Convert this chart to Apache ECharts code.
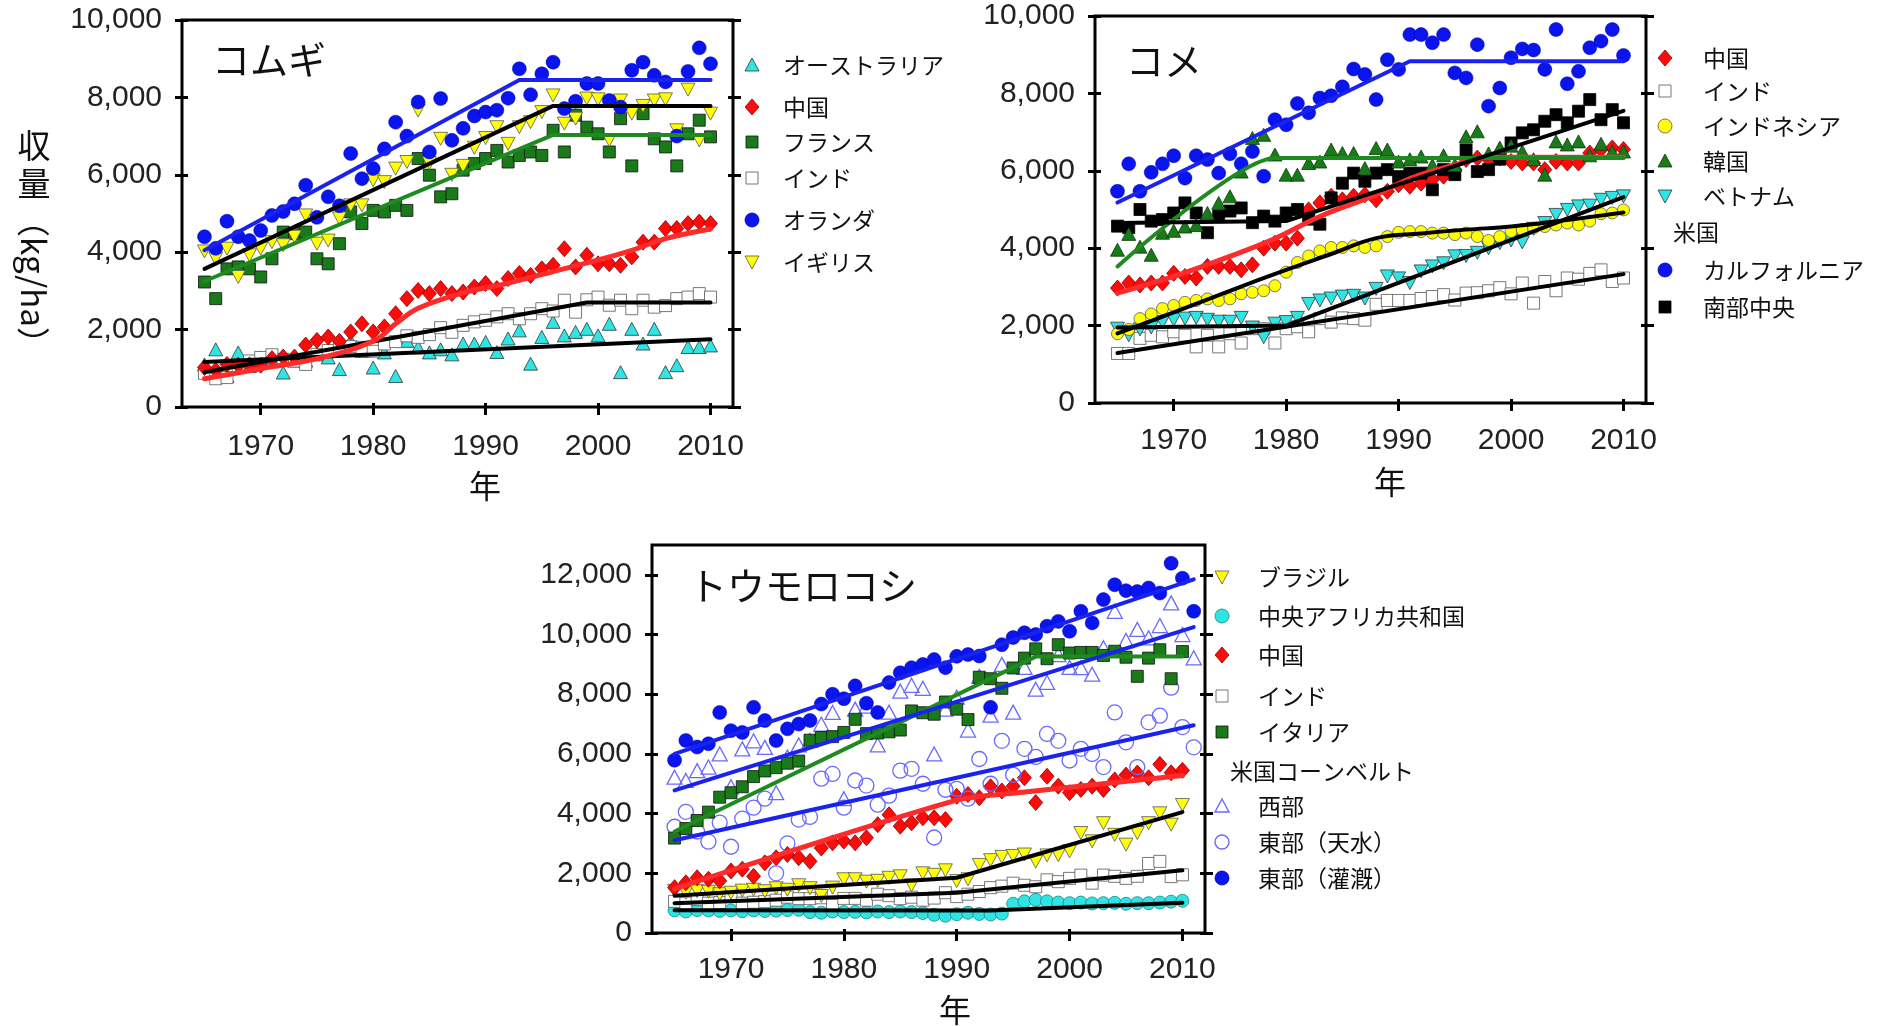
<!DOCTYPE html>
<html><head><meta charset="utf-8">
<script src="https://cdn.jsdelivr.net/npm/echarts@6/dist/echarts.min.js"></script>
<style>html,body{margin:0;padding:0;background:#fff}#c{width:1879px;height:1026px}</style>
</head><body><div id="c"></div>
<script>
// ---------- years ----------
const years46 = [1965,1966,1967,1968,1969,1970,1971,1972,1973,1974,1975,1976,1977,1978,1979,1980,1981,1982,1983,1984,1985,1986,1987,1988,1989,1990,1991,1992,1993,1994,1995,1996,1997,1998,1999,2000,2001,2002,2003,2004,2005,2006,2007,2008,2009,2010];
const years47 = [1965,1966,1967,1968,1969,1970,1971,1972,1973,1974,1975,1976,1977,1978,1979,1980,1981,1982,1983,1984,1985,1986,1987,1988,1989,1990,1991,1992,1993,1994,1995,1996,1997,1998,1999,2000,2001,2002,2003,2004,2005,2006,2007,2008,2009,2010,2011];
const xTicks = [1970,1980,1990,2000,2010];
const yTicks10 = [0,2000,4000,6000,8000,10000];
const yTicks12 = [0,2000,4000,6000,8000,10000,12000];

// ---------- wheat (kg/ha) ----------
const wheatNL = [4400,4100,4800,4400,4300,4560,4950,5050,5250,5730, 4900,5430,5200,6550,5900,6160,6670,7360,7000,7880, 6590,7970,6890,7200,7520,7620,7670,7980,8740,8070, 8610,8910,7710,7900,8360,8360,7920,7750,8700,8910, 8570,8400,7000,8670,9280,8870];
const wheatUK = [4020,3830,4090,3360,3920,4090,4260,4180,4400,4950, 4220,4300,4870,5210,5210,5860,5810,6160,6330,7660, 6300,6930,6000,6230,6700,6950,7230,6800,7230,7360, 7620,8050,7320,7450,7970,7950,6900,7920,7580,7780, 7920,7950,7150,8200,6890,7580];
const wheatFR = [3230,2800,3570,3620,3570,3360,3830,4520,4480,4520, 3830,3700,4220,5040,4740,5080,5040,5210,5080,6420, 5990,5430,5510,6120,6290,6420,6630,6330,6500,6590, 6500,7150,6590,7540,7230,7060,6590,7450,6230,7580, 6930,6720,6230,7060,7410,6980];
const wheatCN = [1020,950,1100,1080,1090,1080,1250,1290,1290,1600, 1720,1810,1700,1940,2150,1940,2070,2410,2800,3010, 2930,3060,2930,2970,3100,3190,3060,3320,3450,3400, 3570,3660,4090,3620,3920,3700,3700,3660,3880,4260, 4260,4610,4610,4740,4780,4740];
const wheatIN = [870,730,760,1020,1190,1280,1350,1230,1190,1100, 1360,1460,1540,1560,1540,1440,1630,1690,1840,1800, 1870,2050,1930,2110,2200,2240,2330,2410,2280,2410, 2540,2480,2760,2450,2770,2840,2630,2760,2540,2760, 2580,2620,2800,2840,2930,2840];
const wheatAU = [1100,1490,800,1410,1060,1280,1190,890,1200,1200, 1360,1280,980,1710,1450,1020,1410,800,1710,1540, 1410,1490,1360,1640,1640,1680,1420,1770,1980,1120, 1810,2200,1850,1940,2020,1850,2150,900,2020,1640, 2020,900,1080,1550,1550,1590];
const wheatNLTrend = [[1965,4050],[1993,8450],[2010,8450]];
const wheatUKTrend = [[1965,3570],[1996,7780],[2010,7780]];
const wheatFRTrend = [[1965,3250],[1996,7030],[2010,7030]];
const wheatCNTrend = [[1965,730],[1970,990],[1975,1250],[1980,1700],[1982,2150],[1984,2550],[1988,2950],[1992,3200],[1996,3500],[2000,3800],[2003,4050],[2006,4350],[2010,4600]];
const wheatINTrend = [[1965,900],[1999,2700],[2010,2700]];
const wheatAUTrend = [[1965,1160],[2010,1750]];

// ---------- rice ----------
const riceCA = [5470,6180,5470,5960,6180,6390,5810,6390,6290,5940, 6440,6180,6500,5860,7320,7190,7740,7500,7880,7940, 8170,8630,8490,7840,8870,8620,9520,9520,9310,9520, 8530,8400,9260,7670,8140,8920,9150,9120,8620,9650, 8250,8570,9180,9350,9650,8980];
const riceSC = [4570,4530,5000,4700,4740,4910,5170,4910,4400,4830, 4960,5040,4660,4830,4700,4910,5000,4750,4620,5300, 5680,5940,5730,5940,6030,5850,5940,5940,5510,6030, 5900,6540,5980,6030,6300,6720,6980,7060,7280,7450, 7240,7540,7840,7320,7580,7240];
const riceKR = [3960,4370,4040,3830,4400,4450,4560,4600,4910,5170, 5340,5980,6850,6930,6420,5900,5900,6200,6240,6550, 6460,6460,6070,6590,6550,6240,6300,6370,6150,6400, 6150,6890,7020,6450,6600,6650,6500,6300,5900,6760, 6680,6760,6400,6700,6500,6500];
const riceCN = [2970,3100,3050,3100,3100,3350,3270,3230,3530,3530, 3530,3440,3570,4000,4130,4130,4260,4990,5170,5340, 5250,5340,5380,5250,5470,5640,5600,5680,5770,5860, 6030,6290,6330,6290,6330,6240,6200,6200,6030,6240, 6200,6200,6460,6550,6590,6550];
const riceID = [1790,1900,2180,2300,2440,2520,2600,2650,2690,2650, 2690,2820,2860,2900,3030,3380,3630,3800,3930,4020, 4020,4060,4020,4060,4300,4410,4430,4430,4390,4390, 4350,4390,4300,4200,4300,4430,4480,4520,4560,4600, 4650,4600,4700,4890,4910,4990];
const riceVN = [1920,1750,1900,1950,2090,2150,2180,2200,2150,2100, 2100,2200,1950,1700,2050,2090,2200,2560,2650,2700, 2750,2770,2700,2950,3270,3220,3100,3400,3530,3610, 3790,3800,3880,4000,4130,4200,4150,4500,4650,4860, 4990,5080,5100,5250,5300,5340];
const riceIN = [1280,1280,1670,1750,1710,1840,1750,1450,1750,1450, 1790,1550,1920,1920,1550,1920,1970,1840,2180,2090, 2200,2180,2140,2550,2650,2650,2650,2700,2750,2800, 2660,2840,2850,2900,2980,2820,3100,2580,3140,2900, 3230,3200,3350,3440,3140,3230];
const riceCATrend = [[1965,5180],[1991,8830],[2010,8830]];
const riceSCTrend = [[1965,4650],[1980,4700],[2010,7550]];
const riceKRTrend = [[1965,3530],[1979,6330],[2010,6330]];
const riceCNTrend = [[1965,2840],[1970,3270],[1975,3790],[1979,4250],[1983,4820],[1988,5380],[1991,5800],[1995,6150],[1998,6350],[2010,6350]];
const riceIDTrend = [[1965,1800],[1970,2340],[1975,2900],[1980,3440],[1984,3850],[1988,4260],[1992,4380],[1996,4480],[2000,4560],[2005,4730],[2010,4920]];
const riceVNTrend = [[1965,1950],[1980,2000],[2010,5320]];
const riceINTrend = [[1965,1290],[2010,3330]];

// ---------- maize ----------
const maizeUSI = [5790,6450,6230,6340,7390,6780,6720,7560,7120,6450, 6840,7000,7120,7670,8000,7850,8280,7700,7390,8390, 8720,8890,9000,9160,8890,9270,9330,9280,7560,9660, 9900,10060,10000,10280,10440,10110,10780,10390,11170,11670, 11470,11440,11560,11390,12390,11890,10780];
const maizeUSW = [5220,5110,5440,5560,6000,4900,6170,6440,6220,4700, 5900,6300,6450,7000,7390,4500,7500,7600,6300,7400, 8100,8300,8200,6000,7500,7900,6800,8600,7300,9000, 7400,8900,8170,8400,9330,8900,8890,8670,9560,10780, 9800,10170,9890,10300,11060,10000,9220];
const maizeUSR = [3560,4060,3400,3060,3700,2890,3830,4200,4500,2000, 3000,3800,3890,5170,5330,4200,5110,4940,4300,4600, 5440,5500,5000,3200,4800,4830,4500,5830,5000,6440, 5300,6170,5900,6670,6440,5780,6170,6000,5560,7390, 6390,5560,7060,7280,8220,6900,6220];
const maizeIT = [3180,3500,3770,4050,4550,4700,4900,5240,5430,5540, 5690,5760,6460,6550,6580,6720,7160,6680,6700,6740, 6800,7440,7380,7330,7740,7500,7150,8570,8520,8200, 8880,9210,9520,9190,9660,9380,9400,9400,9300,9440, 9240,8600,9210,9490,8520,9430];
const maizeCN = [1520,1680,1850,1800,1750,2080,2140,1900,2350,2520, 2630,2520,2400,2850,3020,3080,3020,3190,3630,3960, 3580,3690,3860,3860,3800,4580,4640,4530,4900,4760, 4920,5200,4370,5250,4920,4700,4810,4920,4810,5130, 5290,5360,5200,5650,5370,5450];
const maizeBR = [1410,1350,1400,1380,1300,1350,1420,1450,1400,1500, 1450,1600,1500,1240,1520,1800,1800,1720,1750,1850, 1900,1600,2000,1950,2100,1740,1800,2280,2440,2550, 2580,2630,2390,2600,2610,2740,3350,3070,3680,3290, 2960,3350,3680,4010,3630,4290];
const maizeIN = [1060,1000,1120,1000,1020,1280,1000,1030,1050,1100, 1200,1150,1150,1180,930,1160,1160,1100,1300,1250, 1150,1200,1100,1170,1350,1220,1300,1390,1520,1570, 1670,1600,1550,1780,1720,1830,1940,1670,1940,1900, 1830,1900,2330,2400,1890,1950];
const maizeCAR = [760,720,770,760,740,760,730,760,740,750, 770,780,700,680,720,700,710,690,720,700, 720,700,670,610,580,630,680,640,620,650, 980,1060,1110,1060,1020,1000,1020,990,1000,1010, 980,1000,1000,1020,1050,1080];
const maizeUSITrend = [[1965,6000],[2011,11850]];
const maizeUSWTrend = [[1965,4780],[2011,10250]];
const maizeUSRTrend = [[1965,3110],[2011,6960]];
const maizeITTrend = [[1965,3400],[1997,9260],[2010,9260]];
const maizeCNTrend = [[1965,1480],[1990,4450],[1995,4680],[2010,5280]];
const maizeBRTrend = [[1965,1250],[1990,1850],[2010,4050]];
const maizeINTrend = [[1965,1000],[1990,1350],[2010,2100]];
const maizeCARTrend = [[1965,760],[1993,750],[2010,1010]];

// ---------- styles ----------
const C = {
  blue:'#0a14f0', red:'#ff0a0a', green:'#187a18', cyan:'#30e4e4', yellow:'#ffff00',
  white:'#ffffff', black:'#000000', open:'#6a6aff'
};
const MK = {
  circle:{symbol:'circle', size:14},
  square:{symbol:'rect', size:12},
  diamond:{symbol:'diamond', size:[14,16]},
  tri:{symbol:'triangle', size:[14,13]},
  itri:{symbol:'triangle', size:[14,13], rotate:180}
};
function pts(yrs, vals){ return vals.map((v,i)=>[yrs[i], v]); }
function scat(g, mk, fill, stroke, yrs, vals, opts){
  const m = MK[mk]; opts = opts || {};
  return {type:'scatter', xAxisIndex:g*2, yAxisIndex:g*4, symbol:m.symbol,
    symbolSize: opts.size || m.size, symbolRotate: m.rotate || 0,
    itemStyle:{color:fill, borderColor:stroke, borderWidth: opts.bw || 0.8, opacity:1},
    data: pts(yrs, vals), z:2, silent:true, animation:false};
}
function trend(g, color, data, width, smooth){
  return {type:'line', xAxisIndex:g*2, yAxisIndex:g*4, data:data, symbol:'none', showSymbol:false,
    smooth: smooth || false, lineStyle:{color:color, width: width || 4, cap:'round', join:'round'},
    z:4, silent:true, animation:false};
}
const fmt = v => String(v).replace(/\B(?=(\d{3})+(?!\d))/g, ',');
const fmtYear = v => String(v);

// ---------- grids & axes ----------
const grids = [
  {left:182, top:20, width:551, height:387, ymax:10000, yt:yTicks10, xm:25},
  {left:1095, top:16, width:551, height:387, ymax:10000, yt:yTicks10, xm:23},
  {left:652, top:545, width:553, height:388, ymax:13000, yt:yTicks12, xm:22}
];
const gridOpt = [], xAxes = [], yAxes = [];
const tickLine = {color:'#000', width:3};
const numFont = 'Liberation Sans, Arial, sans-serif';
grids.forEach((g, i) => {
  gridOpt.push({left:g.left, top:g.top, width:g.width, height:g.height, show:true, borderColor:'#000', borderWidth:3, backgroundColor:'rgba(0,0,0,0)'});
  xAxes.push({gridIndex:i, type:'value', position:'bottom', min:1963, max:2012,
    axisLine:{show:false}, splitLine:{show:false},
    axisTick:{show:true, customValues:xTicks, length:8, lineStyle:tickLine},
    axisLabel:{show:true, customValues:xTicks, formatter:fmtYear, margin:g.xm, fontSize:30, color:'#222', fontFamily:numFont}});
  xAxes.push({gridIndex:i, type:'value', position:'bottom', min:1963, max:2012,
    axisLine:{show:false}, splitLine:{show:false},
    axisTick:{show:true, inside:true, customValues:xTicks, length:4, lineStyle:tickLine},
    axisLabel:{show:false}});
  const ybase = {gridIndex:i, type:'value', min:0, max:g.ymax, axisLine:{show:false}, splitLine:{show:false}};
  yAxes.push(Object.assign({}, ybase, {position:'left',
    axisTick:{show:true, customValues:g.yt, length:7, lineStyle:tickLine},
    axisLabel:{show:true, customValues:g.yt, formatter:fmt, margin:20, fontSize:30, color:'#222', fontFamily:numFont}}));
  yAxes.push(Object.assign({}, ybase, {position:'left',
    axisTick:{show:true, inside:true, customValues:g.yt, length:6, lineStyle:tickLine}, axisLabel:{show:false}}));
  yAxes.push(Object.assign({}, ybase, {position:'right',
    axisTick:{show:true, customValues:g.yt, length:8, lineStyle:tickLine}, axisLabel:{show:false}}));
  yAxes.push(Object.assign({}, ybase, {position:'right',
    axisTick:{show:true, inside:true, customValues:g.yt, length:5, lineStyle:tickLine}, axisLabel:{show:false}}));
});

// ---------- series ----------
const series = [
  // wheat
  scat(0,'tri',C.cyan,'#333',years46,wheatAU),
  scat(0,'square',C.white,'#555',years46,wheatIN),
  scat(0,'diamond',C.red,'#8a0000',years46,wheatCN),
  scat(0,'square',C.green,'#111',years46,wheatFR),
  scat(0,'itri',C.yellow,'#555',years46,wheatUK),
  scat(0,'circle',C.blue,'#0000a0',years46,wheatNL,{bw:0.5}),
  trend(0,C.black,wheatAUTrend),
  trend(0,C.black,wheatINTrend),
  trend(0,'#ff2a2a',wheatCNTrend,5,0.4),
  trend(0,'#1f8a1f',wheatFRTrend),
  trend(0,C.black,wheatUKTrend),
  trend(0,'#1a22f0',wheatNLTrend),
  // rice
  scat(1,'square',C.white,'#555',years46,riceIN),
  scat(1,'itri',C.cyan,'#333',years46,riceVN),
  scat(1,'circle',C.yellow,'#555',years46,riceID,{size:12}),
  scat(1,'diamond',C.red,'#8a0000',years46,riceCN),
  scat(1,'square',C.black,'#000',years46,riceSC),
  scat(1,'tri',C.green,'#0a3a0a',years46,riceKR),
  scat(1,'circle',C.blue,'#0000a0',years46,riceCA,{bw:0.5}),
  trend(1,C.black,riceINTrend),
  trend(1,C.black,riceVNTrend),
  trend(1,C.black,riceIDTrend,4,0.4),
  trend(1,'#ff2a2a',riceCNTrend,5,0.4),
  trend(1,'#1f8a1f',riceKRTrend,4,0.2),
  trend(1,C.black,riceSCTrend),
  trend(1,'#1a22f0',riceCATrend),
  // maize
  scat(2,'circle',C.cyan,'#0a8a8a',years46,maizeCAR,{size:13}),
  scat(2,'square',C.white,'#555',years46,maizeIN),
  scat(2,'itri',C.yellow,'#555',years46,maizeBR),
  scat(2,'diamond',C.red,'#8a0000',years46,maizeCN),
  scat(2,'circle','rgba(0,0,0,0)',C.open,years47,maizeUSR,{size:15,bw:1.3}),
  scat(2,'tri','rgba(0,0,0,0)',C.open,years47,maizeUSW,{size:[15,14],bw:1.3}),
  scat(2,'square',C.green,'#111',years46,maizeIT),
  scat(2,'circle',C.blue,'#0000a0',years47,maizeUSI,{bw:0.5}),
  trend(2,C.black,maizeCARTrend),
  trend(2,C.black,maizeINTrend),
  trend(2,C.black,maizeBRTrend),
  trend(2,'#ff2a2a',maizeCNTrend,5,0.3),
  trend(2,'#1f8a1f',maizeITTrend),
  trend(2,'#1a22f0',maizeUSRTrend),
  trend(2,'#1a22f0',maizeUSWTrend),
  trend(2,'#1a22f0',maizeUSITrend)
];

// ---------- legends & texts (graphic) ----------
const JP = '"Noto Sans CJK JP", "Noto Sans", sans-serif';
const G = [];
function text(t, x, y, size, opts){
  opts = opts || {};
  G.push({type:'text', x:x, y:y, rotation: opts.rot || 0, silent:true,
    style:{text:t, fontSize:size, fontFamily:JP, fill: opts.fill || '#111', align: opts.align || 'left', verticalAlign:'middle'}});
}
function mark(kind, x, y, fill, stroke, lw){
  const st = {fill:fill, stroke:stroke, lineWidth: lw || 0.8};
  let el;
  if (kind==='circle') el = {type:'circle', shape:{cx:x, cy:y, r:7}};
  else if (kind==='square') el = {type:'rect', shape:{x:x-6, y:y-6, width:12, height:12}};
  else if (kind==='diamond') el = {type:'polygon', shape:{points:[[x,y-8],[x+7,y],[x,y+8],[x-7,y]]}};
  else if (kind==='tri') el = {type:'polygon', shape:{points:[[x,y-7],[x+7,y+6],[x-7,y+6]]}};
  else el = {type:'polygon', shape:{points:[[x-7,y-6],[x+7,y-6],[x,y+7]]}};
  el.style = st; el.silent = true;
  G.push(el);
}
// wheat legend
const wl = [['tri',C.cyan,'#333','オーストラリア',65],['diamond',C.red,'#8a0000','中国',107],['square',C.green,'#111','フランス',142],
  ['square',C.white,'#555','インド',178],['circle',C.blue,'#0000a0','オランダ',220],['itri',C.yellow,'#555','イギリス',262]];
wl.forEach(r => { mark(r[0], 752, r[4], r[1], r[2]); text(r[3], 783, r[4], 23); });
// rice legend
const rl = [['diamond',C.red,'#8a0000','中国',58],['square',C.white,'#555','インド',91],['circle',C.yellow,'#555','インドネシア',126],
  ['tri',C.green,'#0a3a0a','韓国',161],['itri',C.cyan,'#333','ベトナム',196],['circle',C.blue,'#0000a0','カルフォルニア',270],['square',C.black,'#000','南部中央',307]];
rl.forEach(r => { mark(r[0], 1665, r[4], r[1], r[2]); text(r[3], 1703, r[4], 23); });
text('米国', 1673, 232, 23);
// maize legend
const ml = [['itri',C.yellow,'#555','ブラジル',577],['circle',C.cyan,'#0a8a8a','中央アフリカ共和国',616],['diamond',C.red,'#8a0000','中国',655],
  ['square',C.white,'#555','インド',696],['square',C.green,'#111','イタリア',732],['tri','rgba(0,0,0,0)',C.open,'西部',806],
  ['circle','rgba(0,0,0,0)',C.open,'東部（天水）',842],['circle',C.blue,'#0000a0','東部（灌漑）',878]];
ml.forEach(r => { mark(r[0], 1222, r[4], r[1], r[2], r[1]==='rgba(0,0,0,0)'?1.4:0.8); text(r[3], 1258, r[4], 23); });
text('米国コーンベルト', 1230, 771, 23);
// panel titles
text('コムギ', 212, 60, 38);
text('コメ', 1126, 61, 38);
text('トウモロコシ', 689, 586, 38);
// x-axis titles
text('年', 485, 486, 32, {align:'center'});
text('年', 1390, 482, 32, {align:'center'});
text('年', 955, 1010, 32, {align:'center'});
// y-axis title
text('収', 34, 145, 33, {align:'center'});
text('量', 34, 183, 33, {align:'center'});
text('（kg/ha）', 34, 282, 33, {align:'center', rot:-Math.PI/2});

const chart = echarts.init(document.getElementById('c'), null, {renderer:'canvas'});
chart.setOption({
  animation:false,
  backgroundColor:'#fff',
  grid: gridOpt,
  xAxis: xAxes,
  yAxis: yAxes,
  series: series,
  graphic: G
});
</script>
</body></html>
